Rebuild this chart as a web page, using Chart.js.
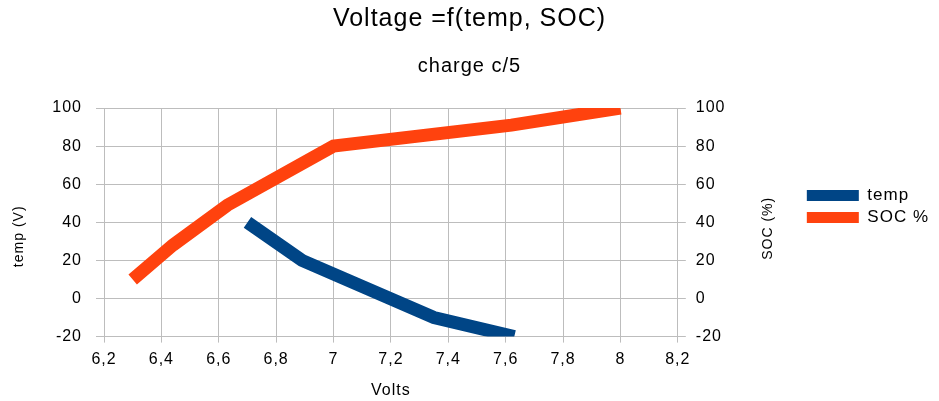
<!DOCTYPE html>
<html>
<head>
<meta charset="utf-8">
<script src="https://cdn.jsdelivr.net/npm/chart.js@4.4.0/dist/chart.umd.min.js"></script>
<style>
  html, body { margin: 0; padding: 0; background: #fff; }
  #wrap { width: 939px; height: 401px; }
</style>
</head>
<body>
<div id="wrap"><canvas id="myChart-voltage"></canvas></div>
<script>
// donnees
const tempVolts = [6.7, 6.89, 7.35, 7.63];
const tempValues = [40, 20, -10, -20];
const socVolts = [6.3, 6.44, 6.63, 7.0, 7.62, 8.0];
const socValues = [10, 28, 49, 80, 91, 100];
const leftTitle = 'temp (V)';
const rightTitle = 'SOC (%)';

const toPoints = (xs, ys) => xs.map((x, i) => ({ x: x, y: ys[i] }));
const comma = v => String(Math.round(v * 10) / 10).replace('.', ',');
const font = 'Liberation Sans';
const gridColor = '#bdbdbd';

// texte un peu large comme sur l'export LibreOffice
const spacing = {
    id: 'spacing',
    beforeUpdate(chart) { chart.ctx.letterSpacing = '1px'; },
    beforeDraw(chart) { chart.ctx.letterSpacing = '1px'; }
};

// titres verticaux, lus de bas en haut des deux cotes
const axisTitles = {
    id: 'axisTitles',
    afterDraw(chart) {
        const { ctx, chartArea, scales } = chart;
        const midY = (chartArea.top + chartArea.bottom) / 2;
        ctx.save();
        ctx.letterSpacing = '1px';
        ctx.font = '14px "' + font + '"';
        ctx.fillStyle = '#000';
        ctx.textAlign = 'center';
        ctx.textBaseline = 'middle';
        [[scales.y.left + 19, midY + 14, leftTitle], [scales.y2.left + 90, midY + 6, rightTitle]].forEach(([x, y, txt]) => {
            ctx.save();
            ctx.translate(x, y);
            ctx.rotate(-Math.PI / 2);
            ctx.fillText(txt, 0, 0);
            ctx.restore();
        });
        ctx.restore();
    }
};

const ctx = document.getElementById('myChart-voltage').getContext('2d');
const myChart = new Chart(ctx, {
    type: 'scatter',
    plugins: [spacing, axisTitles],
    data: {
        datasets: [{
            label: 'temp',
            data: toPoints(tempVolts, tempValues),
            yAxisID: 'y',
            showLine: true,
            borderColor: '#004586',
            backgroundColor: '#004586',
            borderWidth: 13,
            pointRadius: 0,
            borderCapStyle: 'butt',
            borderJoinStyle: 'miter'
        }, {
            label: 'SOC %',
            data: toPoints(socVolts, socValues),
            yAxisID: 'y2',
            showLine: true,
            borderColor: '#ff420e',
            backgroundColor: '#ff420e',
            borderWidth: 13,
            pointRadius: 0,
            borderCapStyle: 'butt',
            borderJoinStyle: 'miter'
        }]
    },
    options: {
        responsive: true,
        maintainAspectRatio: false,
        animation: false,
        layout: { padding: 0 },
        plugins: {
            title: {
                display: true,
                text: 'Voltage =f(temp, SOC)',
                color: '#000',
                font: { family: font, size: 25, weight: 'normal' },
                padding: { top: 4, bottom: 20 }
            },
            subtitle: {
                display: true,
                text: 'charge c/5',
                color: '#000',
                font: { family: font, size: 20, weight: 'normal' },
                padding: { top: 0, bottom: 30 }
            },
            legend: {
                position: 'right',
                title: { display: true, text: '', font: { size: 10 }, padding: 0 },
                labels: {
                    color: '#000',
                    font: { family: font, size: 17 },
                    boxWidth: 52,
                    boxHeight: 11,
                    padding: 5,
                    generateLabels: chart => Chart.defaults.plugins.legend.labels.generateLabels(chart)
                        .map(item => Object.assign(item, { lineWidth: 0 }))
                }
            },
            tooltip: { enabled: false }
        },
        scales: {
            x: {
                type: 'linear',
                min: 6.2,
                max: 8.2,
                ticks: {
                    stepSize: 0.2,
                    color: '#000',
                    padding: 7,
                    font: { family: font, size: 16 },
                    callback: comma
                },
                grid: { color: gridColor, tickLength: 6 },
                border: { display: false },
                title: {
                    display: true,
                    text: 'Volts',
                    color: '#000',
                    padding: { top: 5, bottom: 1 },
                    font: { family: font, size: 16 }
                }
            },
            y: {
                position: 'left',
                min: -20,
                max: 100,
                afterFit: s => { s.width = 104; },
                ticks: {
                    stepSize: 20,
                    color: '#000',
                    padding: 14,
                    font: { family: font, size: 16 }
                },
                grid: { color: gridColor, tickLength: 8 },
                border: { display: false }
            },
            y2: {
                position: 'right',
                min: -20,
                max: 100,
                afterFit: s => { s.width = 124; },
                ticks: {
                    stepSize: 20,
                    color: '#000',
                    padding: 10,
                    font: { family: font, size: 16 }
                },
                grid: { drawOnChartArea: false, color: gridColor, tickLength: 8 },
                border: { display: false }
            }
        }
    }
});
</script>
</body>
</html>
